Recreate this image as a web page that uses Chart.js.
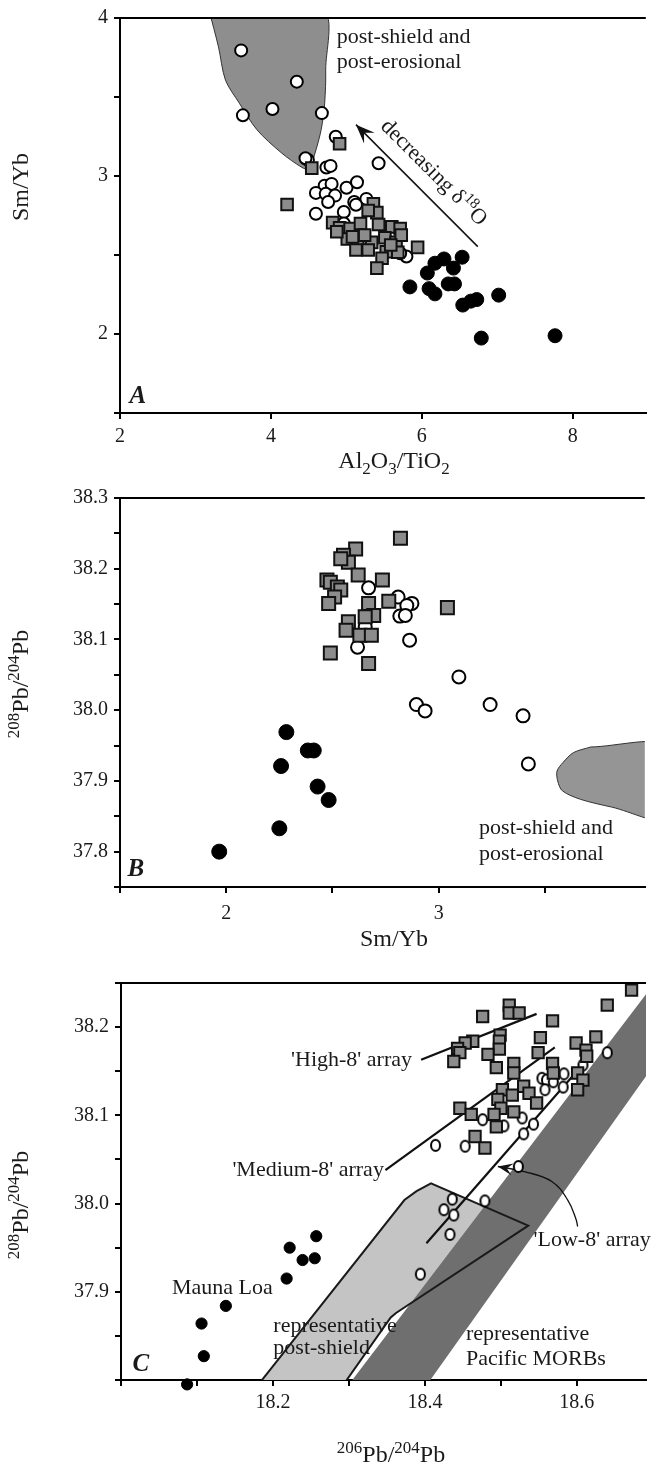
<!DOCTYPE html>
<html>
<head>
<meta charset="utf-8">
<script src="https://cdn.jsdelivr.net/npm/chart.js@4.4.0/dist/chart.umd.min.js"></script>
<style>
    html, body { margin: 0; padding: 0; background: #fff; }
    body { width: 656px; height: 1470px; position: relative; overflow: hidden; }
    canvas { position: absolute; left: 0; }
    #chartA { top: 0; }
    #chartB { top: 480px; }
    #chartC { top: 960px; }
</style>
</head>
<body>
<canvas id="chartA" width="656" height="480"></canvas>
<canvas id="chartB" width="656" height="480"></canvas>
<canvas id="chartC" width="656" height="510"></canvas>
<script>
// ---- Panel A: Sm/Yb vs Al2O3/TiO2 ----
const aCircX = [3.606, 4.344, 3.629, 4.021, 4.676, 4.860, 4.491, 4.459, 5.428, 4.736, 4.791, 4.713, 4.805, 4.597, 4.727, 4.851, 5.003, 5.142, 4.759, 5.105, 5.266, 4.597, 4.967, 5.128, 5.797, 5.714, 4.967, 5.636];
const aCircY = [3.795, 3.597, 3.384, 3.424, 3.398, 3.248, 3.102, 3.112, 3.081, 3.054, 3.064, 2.939, 2.950, 2.893, 2.887, 2.876, 2.926, 2.960, 2.835, 2.835, 2.855, 2.761, 2.772, 2.818, 2.490, 2.511, 2.699, 2.647];
const aSqX = [4.215, 4.542, 4.911, 5.359, 5.405, 5.290, 4.819, 4.911, 5.050, 5.188, 5.428, 5.603, 5.714, 5.013, 5.151, 5.336, 5.511, 5.659, 5.243, 5.529, 5.682, 5.474, 5.405, 5.945, 5.728, 5.128, 5.290, 4.874, 5.082, 5.589];
const aSqY = [2.820, 3.050, 3.204, 2.824, 2.768, 2.782, 2.705, 2.672, 2.667, 2.699, 2.693, 2.678, 2.667, 2.601, 2.563, 2.580, 2.609, 2.580, 2.626, 2.521, 2.517, 2.479, 2.417, 2.548, 2.626, 2.532, 2.532, 2.647, 2.615, 2.563];
const aDotX = [6.535, 6.295, 6.175, 6.420, 6.074, 5.843, 6.097, 6.175, 6.351, 6.434, 7.020, 6.544, 6.651, 6.729, 6.789, 7.767];
const aDotY = [2.486, 2.475, 2.448, 2.417, 2.386, 2.298, 2.287, 2.254, 2.317, 2.317, 2.246, 2.183, 2.208, 2.218, 1.974, 1.989];
// post-shield / post-erosional field outline
const aFieldX = [3.18, 3.306, 3.398, 3.582, 3.813, 4.136, 4.413, 4.505, 4.574, 4.667, 4.713, 4.727, 4.69, 3.18];
const aFieldY = [4.05, 3.816, 3.607, 3.461, 3.294, 3.148, 3.054, 3.044, 3.127, 3.294, 3.461, 3.670, 4.05, 4.05];
// "decreasing d18O" arrow, tail then head
const aArrowX = [6.743, 5.128];
const aArrowY = [2.553, 3.325];
const aTicksX = [2, 4, 6, 8];
const aTicksY = [1.5, 2, 2.5, 3, 3.5, 4];
const aLabelsY = [2, 3, 4];

// ---- Panel B: 208Pb/204Pb vs Sm/Yb ----
const bSqX = [2.820, 2.609, 2.552, 2.575, 2.539, 2.621, 2.735, 2.474, 2.490, 2.523, 2.539, 2.510, 2.482, 2.670, 2.765, 2.694, 2.654, 2.575, 2.564, 2.629, 2.683, 3.041, 2.490, 2.670];
const bSqY = [38.243, 38.228, 38.219, 38.209, 38.214, 38.191, 38.184, 38.184, 38.181, 38.174, 38.170, 38.160, 38.151, 38.151, 38.154, 38.134, 38.132, 38.125, 38.113, 38.106, 38.106, 38.145, 38.081, 38.066];
const bCircX = [2.670, 2.809, 2.874, 2.850, 2.817, 2.843, 2.863, 2.618, 2.654, 3.095, 2.895, 2.936, 3.242, 3.397, 3.422];
const bCircY = [38.173, 38.160, 38.151, 38.148, 38.133, 38.134, 38.099, 38.089, 38.118, 38.047, 38.008, 37.999, 38.008, 37.992, 37.924];
const bDotX = [2.283, 2.384, 2.412, 2.258, 2.430, 2.482, 2.250, 1.967];
const bDotY = [37.969, 37.943, 37.943, 37.921, 37.892, 37.873, 37.833, 37.800];
const bFieldX = [3.716, 3.634, 3.585, 3.557, 3.560, 3.582, 3.667, 3.814, 4.1, 4.1, 3.716];
const bFieldY = [37.948, 37.940, 37.926, 37.914, 37.900, 37.886, 37.874, 37.863, 37.845, 37.949, 37.948];
const bTicksX = [1.5, 2, 2.5, 3, 3.5];
const bLabelsX = [2, 3];
const bTicksY = [37.75, 37.8, 37.85, 37.9, 37.95, 38.0, 38.05, 38.1, 38.15, 38.2, 38.25, 38.3];
const bLabelsY = [37.8, 37.9, 38.0, 38.1, 38.2, 38.3];

// ---- Panel C: 208Pb/204Pb vs 206Pb/204Pb ----
const cSqX = [18.672, 18.640, 18.511, 18.511, 18.524, 18.476, 18.568, 18.625, 18.599, 18.612, 18.613, 18.552, 18.549, 18.499, 18.498, 18.498, 18.483, 18.463, 18.453, 18.443, 18.446, 18.438, 18.494, 18.517, 18.517, 18.568, 18.569, 18.601, 18.608, 18.601, 18.530, 18.537, 18.547, 18.502, 18.496, 18.515, 18.500, 18.517, 18.491, 18.494, 18.446, 18.461, 18.466, 18.479];
const cSqY = [38.242, 38.225, 38.225, 38.216, 38.216, 38.212, 38.207, 38.189, 38.182, 38.174, 38.167, 38.188, 38.171, 38.191, 38.184, 38.175, 38.169, 38.184, 38.182, 38.176, 38.171, 38.161, 38.154, 38.159, 38.148, 38.159, 38.148, 38.148, 38.140, 38.129, 38.133, 38.125, 38.114, 38.129, 38.118, 38.123, 38.108, 38.104, 38.101, 38.087, 38.108, 38.101, 38.076, 38.063];
const cCircX = [18.640, 18.608, 18.583, 18.571, 18.554, 18.560, 18.569, 18.582, 18.558, 18.543, 18.530, 18.528, 18.504, 18.476, 18.414, 18.453, 18.523, 18.479, 18.436, 18.425, 18.438, 18.433, 18.394];
const cCircY = [38.171, 38.157, 38.147, 38.146, 38.142, 38.140, 38.138, 38.132, 38.129, 38.090, 38.079, 38.097, 38.088, 38.095, 38.066, 38.065, 38.042, 38.003, 38.005, 37.993, 37.987, 37.965, 37.920];
const cDotX = [18.257, 18.222, 18.239, 18.255, 18.218, 18.138, 18.106, 18.109, 18.087];
const cDotY = [37.963, 37.950, 37.936, 37.938, 37.915, 37.884, 37.864, 37.827, 37.795];
const cPostX = [18.181, 18.373, 18.389, 18.408, 18.536, 18.362, 18.355, 18.293, 18.181];
const cPostY = [37.795, 38.004, 38.014, 38.023, 37.975, 37.876, 37.871, 37.795, 37.795];
const cMorbX = [18.300, 18.75, 18.75, 18.403, 18.300];
const cMorbY = [37.795, 38.304, 38.216, 37.795, 37.795];
const cHighX = [18.395, 18.547];
const cHighY = [38.163, 38.215];
const cMedX = [18.348, 18.571];
const cMedY = [38.038, 38.177];
const cLowX = [18.402, 18.600];
const cLowY = [37.955, 38.150];
const cCurveX = [18.601, 18.599, 18.588, 18.567, 18.532, 18.496];
const cCurveY = [37.974, 37.982, 38.004, 38.025, 38.036, 38.042];
const cTicksX = [18.0, 18.1, 18.2, 18.3, 18.4, 18.5, 18.6];
const cLabelsX = [18.2, 18.4, 18.6];
const cTicksY = [37.8, 37.85, 37.9, 37.95, 38.0, 38.05, 38.1, 38.15, 38.2, 38.25];
const cLabelsY = [37.9, 38.0, 38.1, 38.2];

const SERIF = '"Liberation Serif", "Times New Roman", serif';
const INK = '#1a1a1a';

// Turn two value arrays into {x, y} points
function toPoints(xs, ys) {
    return xs.map((x, i) => ({ x: x, y: ys[i] }));
}

// Oval open symbol used in panel C
function ovalMarker(w, h) {
    const c = document.createElement('canvas');
    c.width = w + 4;
    c.height = h + 4;
    const g = c.getContext('2d');
    g.beginPath();
    g.ellipse(c.width / 2, c.height / 2, w / 2, h / 2, 0, 0, Math.PI * 2);
    g.fillStyle = '#fff';
    g.fill();
    g.lineWidth = 2;
    g.strokeStyle = '#000';
    g.stroke();
    return c;
}

// Linear axis with outward tick marks and labels only on some ticks
function makeAxis(min, max, tickVals, labelVals, digits, pad, size, isX) {
    return {
        type: 'linear',
        min: min,
        max: max,
        afterBuildTicks: function (scale) {
            scale.ticks = tickVals.map(v => ({ value: v }));
        },
        afterFit: function (scale) {
            if (isX) scale.height = size;
            else scale.width = size;
        },
        ticks: {
            autoSkip: false,
            maxRotation: 0,
            padding: pad,
            color: INK,
            font: { family: SERIF, size: 20 },
            callback: function (value) {
                const hit = labelVals.find(v => Math.abs(v - value) < 1e-6);
                return hit === undefined ? '' : hit.toFixed(digits);
            }
        },
        grid: {
            drawOnChartArea: false,
            drawTicks: true,
            tickLength: 6,
            tickWidth: 2,
            tickColor: '#000',
            lineWidth: 2,
            color: '#000'
        },
        border: { display: true, color: '#000', width: 2 },
        title: { display: false }
    };
}

// Text made of runs (for super/subscripts), drawn centred on 'middle'
function drawRuns(ctx, runs, x, y, align, angle) {
    ctx.save();
    ctx.translate(x, y);
    ctx.rotate(angle || 0);
    ctx.textBaseline = 'middle';
    ctx.textAlign = 'left';
    ctx.fillStyle = INK;
    let total = 0;
    const widths = runs.map(r => {
        ctx.font = (r.style || '') + ' ' + r.s + 'px ' + SERIF;
        const w = ctx.measureText(r.t).width;
        total += w;
        return w;
    });
    let cx = align === 'center' ? -total / 2 : (align === 'right' ? -total : 0);
    runs.forEach((r, i) => {
        ctx.font = (r.style || '') + ' ' + r.s + 'px ' + SERIF;
        ctx.fillText(r.t, cx, r.dy || 0);
        cx += widths[i];
    });
    ctx.restore();
}

function plain(text, size, style) {
    return [{ t: text, s: size || 22, style: style }];
}

// Frame top line, arrow heads, notes and axis titles
function decorPlugin(spec) {
    return {
        id: 'decor',
        afterDraw(chart) {
            const ctx = chart.ctx;
            const area = chart.chartArea;
            const sx = chart.scales.x;
            const sy = chart.scales.y;
            ctx.save();
            ctx.strokeStyle = '#000';
            ctx.lineWidth = 2;
            ctx.beginPath();
            ctx.moveTo(area.left - 1, area.top);
            ctx.lineTo(area.right, area.top);
            ctx.stroke();

            ctx.fillStyle = '#111';
            (spec.heads || []).forEach(h => {
                const x1 = sx.getPixelForValue(h.x1), y1 = sy.getPixelForValue(h.y1);
                const x2 = sx.getPixelForValue(h.x2), y2 = sy.getPixelForValue(h.y2);
                ctx.save();
                ctx.translate(x2, y2);
                ctx.rotate(Math.atan2(y2 - y1, x2 - x1));
                ctx.beginPath();
                ctx.moveTo(0, 0);
                ctx.lineTo(-h.len, -h.wid / 2);
                ctx.lineTo(-h.len * 0.6, 0);
                ctx.lineTo(-h.len, h.wid / 2);
                ctx.closePath();
                ctx.fill();
                ctx.restore();
            });

            (spec.notes || []).forEach(n => {
                let angle = 0;
                if (n.along) {
                    const ax = sx.getPixelForValue(n.along[0]), ay = sy.getPixelForValue(n.along[1]);
                    const bx = sx.getPixelForValue(n.along[2]), by = sy.getPixelForValue(n.along[3]);
                    angle = Math.atan2(by - ay, bx - ax);
                }
                drawRuns(ctx, n.runs, sx.getPixelForValue(n.x), sy.getPixelForValue(n.y), n.align || 'left', angle);
            });

            (spec.titles || []).forEach(t => drawRuns(ctx, t.runs, t.px, t.py, 'center', t.angle || 0));
            ctx.restore();
        }
    };
}

function baseOptions(xAxis, yAxis, padTop) {
    return {
        responsive: false,
        animation: false,
        events: [],
        layout: { padding: { top: padTop, right: 0, bottom: 0, left: 0 } },
        plugins: { legend: { display: false }, tooltip: { enabled: false } },
        scales: { x: xAxis, y: yAxis }
    };
}

function fieldSet(xs, ys, fillColor, edgeColor, edgeWidth, tension, order) {
    return {
        type: 'line', data: toPoints(xs, ys), fill: fillColor ? 'shape' : false,
        backgroundColor: fillColor || 'transparent', borderColor: edgeColor,
        borderWidth: edgeWidth, pointRadius: 0, tension: tension, order: order, clip: 0
    };
}

function lineSet(xs, ys, width, tension, order) {
    return {
        type: 'line', data: toPoints(xs, ys), fill: false, borderColor: '#111',
        borderWidth: width, pointRadius: 0, tension: tension || 0, order: order
    };
}

// Markers are not clipped, so symbols sitting on an axis stay whole
function pointSet(xs, ys, style, radius, fill, edge, edgeWidth, order) {
    return {
        data: toPoints(xs, ys), pointStyle: style, pointRadius: radius, pointHoverRadius: radius,
        pointBackgroundColor: fill, pointBorderColor: edge, pointBorderWidth: edgeWidth,
        order: order, clip: false
    };
}

const pbTitle = [
    { t: '208', s: 17, dy: -7 }, { t: 'Pb/', s: 24 },
    { t: '204', s: 17, dy: -7 }, { t: 'Pb', s: 24 }
];
const pb6Title = [
    { t: '206', s: 17, dy: -7 }, { t: 'Pb/', s: 24 },
    { t: '204', s: 17, dy: -7 }, { t: 'Pb', s: 24 }
];

// Panel A
new Chart(document.getElementById('chartA'), {
    type: 'scatter',
    data: {
        datasets: [
            fieldSet(aFieldX, aFieldY, '#8e8e8e', '#333', 1, 0.3, 10),
            lineSet(aArrowX, aArrowY, 1.5, 0, 9),
            pointSet(aCircX, aCircY, 'circle', 6, '#fff', '#000', 2, 3),
            pointSet(aSqX, aSqY, 'rect', 8.2, '#8c8c8c', '#111', 2, 2),
            pointSet(aDotX, aDotY, 'circle', 7, '#000', '#000', 1, 1)
        ]
    },
    options: baseOptions(
        makeAxis(2, 8.97, aTicksX, aTicksX, 0, 6, 67, true),
        makeAxis(1.5, 4, aTicksY, aLabelsY, 0, 6, 120, false),
        14
    ),
    plugins: [decorPlugin({
        heads: [{ x1: aArrowX[0], y1: aArrowY[0], x2: aArrowX[1], y2: aArrowY[1], len: 19, wid: 15 }],
        notes: [
            { x: 4.874, y: 3.879, runs: plain('post-shield and') },
            { x: 4.874, y: 3.722, runs: plain('post-erosional') },
            { x: 2.235, y: 1.602, align: 'center', runs: plain('A', 25, 'italic bold') },
            {
                x: 5.497, y: 3.335, along: [aArrowX[1], aArrowY[1], aArrowX[0], aArrowY[0]],
                runs: [{ t: 'decreasing δ', s: 22 }, { t: '18', s: 15, dy: -7 }, { t: 'O', s: 22 }]
            }
        ],
        titles: [
            {
                px: 394, py: 462, runs: [
                    { t: 'Al', s: 24 }, { t: '2', s: 17, dy: 8 }, { t: 'O', s: 24 }, { t: '3', s: 17, dy: 8 },
                    { t: '/TiO', s: 24 }, { t: '2', s: 17, dy: 8 }
                ]
            },
            { px: 22, py: 187, angle: -Math.PI / 2, runs: plain('Sm/Yb', 24) }
        ]
    })]
});

// Panel B
new Chart(document.getElementById('chartB'), {
    type: 'scatter',
    data: {
        datasets: [
            fieldSet(bFieldX, bFieldY, '#959595', '#333', 1, 0.3, 10),
            pointSet(bCircX, bCircY, 'circle', 6.5, '#fff', '#000', 2, 3),
            pointSet(bSqX, bSqY, 'rect', 9.2, '#8c8c8c', '#111', 2, 2),
            pointSet(bDotX, bDotY, 'circle', 7.5, '#000', '#000', 1, 1)
        ]
    },
    options: baseOptions(
        makeAxis(1.5, 3.97, bTicksX, bLabelsX, 0, 9, 73, true),
        makeAxis(37.75, 38.3, bTicksY, bLabelsY, 1, 6, 120, false),
        17
    ),
    plugins: [decorPlugin({
        notes: [
            { x: 3.190, y: 37.833, runs: plain('post-shield and') },
            { x: 3.190, y: 37.797, runs: plain('post-erosional') },
            { x: 1.575, y: 37.774, align: 'center', runs: plain('B', 25, 'italic bold') }
        ],
        titles: [
            { px: 394, py: 460, runs: plain('Sm/Yb', 24) },
            { px: 22, py: 204, angle: -Math.PI / 2, runs: pbTitle }
        ]
    })]
});

// Panel C
const oval = ovalMarker(9, 11);
new Chart(document.getElementById('chartC'), {
    type: 'scatter',
    data: {
        datasets: [
            fieldSet(cPostX, cPostY, '#c4c4c4', 'transparent', 0, 0, 13),
            fieldSet(cMorbX, cMorbY, '#6f6f6f', 'transparent', 0, 0, 12),
            fieldSet(cPostX, cPostY, null, '#1a1a1a', 2, 0, 11),
            lineSet(cHighX, cHighY, 2.2, 0, 9),
            lineSet(cMedX, cMedY, 2.2, 0, 9),
            lineSet(cLowX, cLowY, 2.2, 0, 9),
            lineSet(cCurveX, cCurveY, 1.3, 0.4, 9),
            pointSet(cCircX, cCircY, oval, 6, '#fff', '#000', 2, 3),
            pointSet(cSqX, cSqY, 'rect', 8, '#8c8c8c', '#111', 2, 2),
            pointSet(cDotX, cDotY, 'circle', 5.6, '#000', '#000', 1, 1)
        ]
    },
    options: baseOptions(
        makeAxis(18.0, 18.691, cTicksX, cLabelsX, 1, 5, 90, true),
        makeAxis(37.8, 38.25, cTicksY, cLabelsY, 1, 6, 121, false),
        23
    ),
    plugins: [decorPlugin({
        heads: [{ x1: cCurveX[4], y1: cCurveY[4], x2: cCurveX[5], y2: cCurveY[5], len: 15, wid: 12 }],
        notes: [
            { x: 18.383, y: 38.163, align: 'right', runs: plain("'High-8' array") },
            { x: 18.346, y: 38.038, align: 'right', runs: plain("'Medium-8' array") },
            { x: 18.543, y: 37.959, runs: plain("'Low-8' array") },
            { x: 18.067, y: 37.904, runs: plain('Mauna Loa') },
            { x: 18.2005, y: 37.861, runs: plain('representative') },
            { x: 18.2005, y: 37.836, runs: plain('post-shield') },
            { x: 18.454, y: 37.852, runs: plain('representative') },
            { x: 18.454, y: 37.824, runs: plain('Pacific MORBs') },
            { x: 18.026, y: 37.817, align: 'center', runs: plain('C', 25, 'italic bold') }
        ],
        titles: [
            { px: 391, py: 496, runs: pb6Title },
            { px: 22, py: 245, angle: -Math.PI / 2, runs: pbTitle }
        ]
    })]
});
</script>
</body>
</html>
